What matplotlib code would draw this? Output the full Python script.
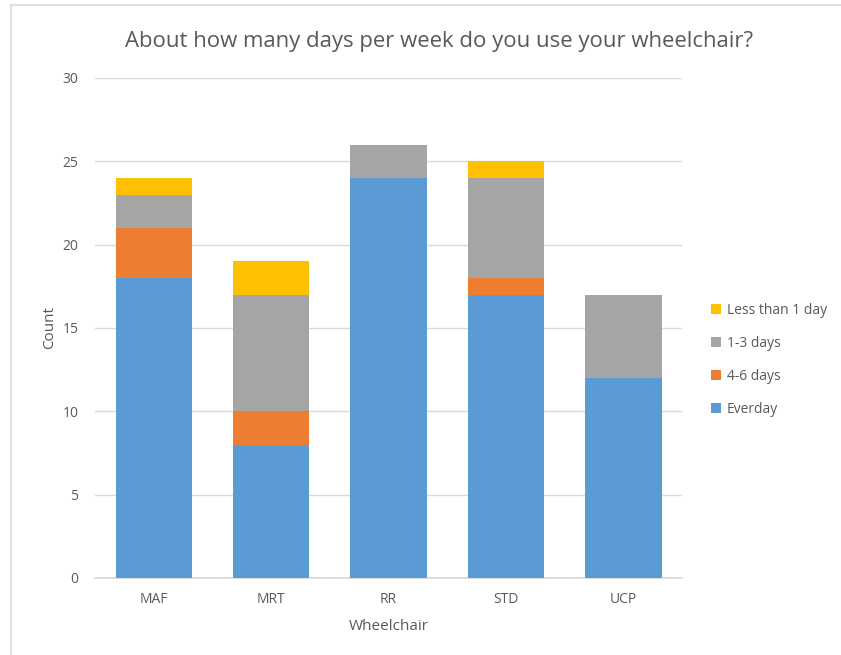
import matplotlib
matplotlib.use('Agg')
import matplotlib.pyplot as plt
from matplotlib.patches import Patch
from matplotlib.lines import Line2D

# data
chairs = ['MAF', 'MRT', 'RR', 'STD', 'UCP']
everyday = [18, 8, 24, 17, 12]
days_4_6 = [3, 2, 0, 1, 0]
days_1_3 = [2, 7, 2, 6, 5]
less_1 = [1, 2, 0, 1, 0]

series_names = ['Everday', '4-6 days', '1-3 days', 'Less than 1 day']
series_colors = ['#5B9BD5', '#ED7D31', '#A5A5A5', '#FFC000']
text_color = '#595959'

plt.rcParams['font.family'] = ['Open Sans', 'DejaVu Sans']

fig = plt.figure(figsize=(8.41, 6.55), dpi=100)
ax = fig.add_axes([0.113, 0.1176, 0.698, 0.7634])

# chart frame (Excel chart area border)
fig.add_artist(Line2D([11 / 841, 11 / 841], [0, 1 - 5 / 655], transform=fig.transFigure, color='#D9D9D9', lw=1.2))
fig.add_artist(Line2D([11 / 841, 1], [1 - 5 / 655, 1 - 5 / 655], transform=fig.transFigure, color='#D9D9D9', lw=1.2))

x = range(len(chairs))
bottom = [0] * len(chairs)
for values, color in zip([everyday, days_4_6, days_1_3, less_1], series_colors):
  ax.bar(x, values, width=0.65, bottom=bottom, color=color, zorder=3)
  bottom = [b + v for b, v in zip(bottom, values)]

ax.set_xlim(-0.5, len(chairs) - 0.5)
ax.set_ylim(0, 30)
ax.set_yticks(range(0, 31, 5))
ax.set_xticks(list(x))
ax.set_xticklabels(chairs)
ax.yaxis.grid(True, color='#D9D9D9', lw=1, zorder=0)
for side in ['top', 'right', 'left']:
  ax.spines[side].set_visible(False)
ax.spines['bottom'].set_color('#D9D9D9')
ax.spines['bottom'].set_linewidth(1.2)
ax.tick_params(length=0, colors=text_color, labelsize=10)
ax.tick_params(axis='y', pad=12)
ax.tick_params(axis='x', pad=10)

ax.set_xlabel('Wheelchair', color=text_color, fontsize=11, labelpad=9)
ax.set_ylabel('Count', color=text_color, fontsize=11, labelpad=4)
fig.text(0.522, 0.937, 'About how many days per week do you use your wheelchair?', ha='center', va='center', color=text_color, fontsize=15.9)

handles = [Patch(facecolor=c, edgecolor='none') for c in series_colors][::-1]
labels = series_names[::-1]
leg = fig.legend(handles, labels, loc='center left', bbox_to_anchor=(0.831, 0.451), frameon=False,
                 fontsize=10, handlelength=0.7, handleheight=0.7, handletextpad=0.4, labelspacing=1.3)
for t in leg.get_texts():
  t.set_color(text_color)

fig.savefig('out.png', dpi=100)
